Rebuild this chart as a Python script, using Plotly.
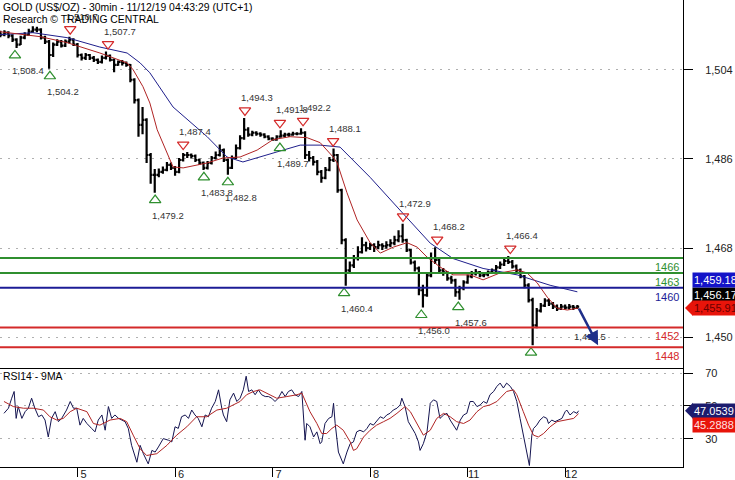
import plotly.graph_objects as go
from plotly.subplots import make_subplots

# hourly bars; x = hours counted from 4 Nov 00:00 on the trading clock
hours = list(range(5, 148))
closes = [
    1511.1, 1511.5, 1510.9, 1510.1, 1509.1, 1510.5, 1511.1, 1511.7, 1512.1, 1512.1,
    1510.5, 1509.7, 1507.0, 1509.1, 1509.7, 1508.9, 1509.7, 1510.1, 1509.1, 1507.0,
    1506.4, 1507.0, 1506.4, 1506.0, 1505.6, 1506.4, 1506.8, 1506.0, 1505.0, 1505.6,
    1505.4, 1505.0, 1502.0, 1497.9, 1492.9, 1493.9, 1486.8, 1482.8, 1482.8, 1483.4,
    1483.8, 1484.8, 1484.2, 1483.4, 1485.8, 1486.8, 1486.8, 1486.6, 1485.8, 1485.2,
    1484.2, 1485.2, 1486.2, 1486.8, 1487.8, 1485.8, 1484.2, 1486.2, 1488.2, 1490.2,
    1491.9, 1490.9, 1491.3, 1491.1, 1490.9, 1490.5, 1490.1, 1489.9, 1490.5, 1490.7,
    1490.9, 1490.9, 1491.1, 1491.1, 1491.3, 1486.8, 1486.2, 1485.4, 1483.4, 1482.2,
    1483.8, 1485.8, 1486.8, 1479.7, 1469.6, 1463.5, 1464.5, 1466.0, 1467.2, 1468.6,
    1468.0, 1468.6, 1468.2, 1468.6, 1468.4, 1468.6, 1469.0, 1469.6, 1470.4, 1469.6,
    1467.6, 1465.1, 1463.9, 1459.5, 1458.5, 1462.5, 1466.0, 1465.6, 1463.5, 1463.1,
    1461.9, 1461.5, 1459.1, 1459.9, 1461.1, 1462.3, 1462.9, 1463.1, 1462.5, 1462.7,
    1463.1, 1463.5, 1464.1, 1464.7, 1465.4, 1465.2, 1464.3, 1463.5, 1462.3, 1460.5,
    1457.5, 1452.4, 1455.4, 1456.4, 1457.4, 1456.8, 1456.2, 1455.8, 1456.2, 1456.0,
    1456.2, 1456.0, 1456.17,
]
highs = [
    1511.9, 1512.0, 1511.8, 1511.2, 1510.4, 1510.9, 1511.6, 1512.3, 1512.8, 1512.7,
    1512.4, 1510.9, 1510.0, 1509.5, 1510.2, 1510.0, 1510.1, 1510.7, 1510.4, 1509.4,
    1507.3, 1507.4, 1507.2, 1506.8, 1506.3, 1506.9, 1507.7, 1507.1, 1506.3, 1505.9,
    1506.0, 1505.7, 1505.2, 1502.3, 1498.2, 1496.5, 1494.2, 1487.2, 1484.0, 1484.1,
    1484.5, 1485.4, 1485.3, 1484.6, 1486.2, 1487.2, 1487.4, 1487.1, 1486.9, 1486.1,
    1485.5, 1485.6, 1486.6, 1487.5, 1488.9, 1488.1, 1486.1, 1486.7, 1488.9, 1490.8,
    1494.3, 1492.4, 1491.7, 1491.6, 1491.4, 1491.2, 1490.8, 1490.4, 1490.8, 1491.8,
    1491.3, 1491.3, 1491.5, 1491.4, 1492.2, 1491.6, 1487.6, 1486.6, 1485.8, 1483.8,
    1484.4, 1486.4, 1488.1, 1487.0, 1480.0, 1470.0, 1465.3, 1466.6, 1468.4, 1470.2,
    1469.3, 1469.1, 1469.0, 1469.5, 1469.0, 1469.4, 1469.8, 1470.5, 1471.6, 1472.9,
    1469.9, 1467.9, 1465.5, 1464.3, 1460.6, 1462.9, 1467.1, 1468.2, 1465.9, 1464.0,
    1463.4, 1462.4, 1461.8, 1460.4, 1461.5, 1462.7, 1463.4, 1463.8, 1463.4, 1463.1,
    1463.5, 1463.9, 1464.6, 1465.3, 1466.0, 1466.4, 1465.6, 1464.7, 1463.9, 1462.6,
    1460.9, 1458.0, 1455.9, 1456.9, 1457.9, 1457.8, 1457.1, 1456.6, 1456.7, 1456.6,
    1456.7, 1456.5, 1456.5,
]
lows = [
    1510.6, 1510.8, 1510.4, 1509.6, 1508.4, 1509.0, 1510.2, 1510.9, 1511.5, 1511.6,
    1510.1, 1509.2, 1504.2, 1506.6, 1508.8, 1508.5, 1508.6, 1509.3, 1508.8, 1506.5,
    1505.9, 1506.0, 1506.0, 1505.6, 1505.2, 1505.3, 1506.1, 1505.7, 1503.5, 1504.8,
    1504.9, 1504.6, 1501.5, 1497.2, 1490.5, 1491.0, 1485.2, 1481.0, 1479.2, 1482.3,
    1483.0, 1483.5, 1483.8, 1482.6, 1483.1, 1485.5, 1486.2, 1486.1, 1485.4, 1484.8,
    1483.8, 1483.9, 1484.9, 1485.9, 1486.5, 1485.4, 1482.8, 1484.0, 1486.0, 1487.9,
    1489.9, 1490.5, 1490.6, 1490.7, 1490.5, 1490.2, 1489.8, 1489.7, 1489.7, 1490.3,
    1490.4, 1490.5, 1490.7, 1490.8, 1490.9, 1486.0, 1485.5, 1484.7, 1482.7, 1481.2,
    1481.9, 1483.5, 1485.4, 1479.2, 1468.8, 1460.4, 1462.8, 1464.0, 1465.5, 1466.9,
    1467.3, 1467.6, 1467.2, 1467.8, 1467.6, 1467.9, 1468.2, 1468.6, 1469.2, 1469.1,
    1467.2, 1464.7, 1463.3, 1458.5, 1456.0, 1458.2, 1462.1, 1464.8, 1463.0, 1462.4,
    1461.4, 1460.8, 1458.2, 1457.6, 1459.5, 1460.8, 1461.9, 1462.5, 1462.1, 1462.1,
    1462.3, 1462.8, 1463.2, 1463.8, 1464.4, 1464.8, 1463.9, 1463.0, 1461.9, 1459.9,
    1457.0, 1448.4, 1451.8, 1455.0, 1456.1, 1456.3, 1455.7, 1455.3, 1455.5, 1455.6,
    1455.6, 1455.5, 1455.7,
]
first_open = 1511.4
opens = [first_open] + closes[:-1]

# moving averages
ma_fast_x = [4.9, 14.8, 21.4, 29.5, 36.2, 37.7, 40.1, 41.8, 43.6, 47.5, 50.0, 55.9, 59.8,
             64.0, 68.2, 72.1, 76.3, 80.5, 83.7, 86.9, 87.9, 90.3, 92.8, 96.0, 98.5, 101.7,
             105.1, 107.6, 110.0, 113.2, 116.4, 120.6, 123.8, 128.0, 132.2, 134.6, 137.1,
             139.6, 142.0, 144.5, 147.2]
ma_fast_y = [1511.7, 1510.7, 1509.5, 1507.4, 1505.4, 1504.0, 1500.6, 1497.3, 1491.9, 1484.4,
             1484.2, 1485.2, 1486.2, 1486.4, 1487.8, 1489.9, 1490.5, 1490.3, 1489.3, 1486.4,
             1485.2, 1479.2, 1473.7, 1469.1, 1467.0, 1468.2, 1469.1, 1468.2, 1466.2, 1464.2,
             1462.6, 1462.6, 1461.6, 1463.0, 1463.6, 1463.0, 1461.0, 1458.1, 1455.9, 1455.5,
             1455.91]
ma_slow_x = [4.9, 13.0, 21.4, 29.5, 36.2, 39.4, 41.8, 47.5, 55.9, 60.8, 64.7, 68.2, 73.8,
             78.8, 83.7, 88.6, 96.0, 104.1, 110.8, 116.4, 123.8, 132.2, 140.3, 147.0]
ma_slow_y = [1511.1, 1511.5, 1510.5, 1508.6, 1507.4, 1505.4, 1503.4, 1496.5, 1490.5, 1486.4,
             1485.4, 1486.2, 1487.6, 1488.8, 1488.8, 1488.4, 1482.3, 1475.0, 1469.0, 1465.9,
             1463.9, 1462.6, 1460.5, 1459.18]

# swing points
swing_high_x = [22.2, 31.5, 50.0, 65.2, 73.8, 79.5, 86.9, 104.1, 112.5, 130.5]
swing_high_y = [1510.7, 1507.7, 1487.4, 1494.3, 1491.8, 1492.2, 1488.1, 1472.9, 1468.2, 1466.4]
swing_low_x = [8.6, 17.2, 43.1, 55.1, 61.0, 73.8, 89.6, 108.6, 117.7, 135.6]
swing_low_y = [1508.4, 1504.2, 1479.2, 1483.8, 1482.8, 1489.7, 1460.4, 1456.0, 1457.6, 1448.4]
swing_low_labelled = [True] * 9 + [False]

# support / resistance levels
levels = [1466, 1463, 1460, 1452, 1448]
level_colors = ["#2f8f2f", "#2f8f2f", "#1c1c96", "#d42a2a", "#d42a2a"]

target_from = (147.2, 1456.1)
target_to = (152.1, 1448.4)
target_label = "1,450.5"

# RSI 14 and its 9 period average
rsi_x = [5.9, 7.0, 7.8, 8.4, 8.9, 9.4, 10.3, 11.1, 11.9, 12.7, 13.5, 14.4, 15.2, 16.0, 16.8,
         17.6, 18.5, 19.3, 20.1, 21.3, 22.2, 23.0, 23.8, 24.6, 25.4, 26.3, 27.5, 28.3, 29.1,
         30.0, 30.8, 31.6, 32.4, 33.2, 34.1, 34.9, 35.7, 36.5, 37.3, 38.6, 39.4, 40.2, 41.4,
         42.3, 43.1, 43.9, 45.1, 46.4, 47.2, 48.0, 48.8, 49.6, 50.5, 51.3, 52.1, 52.9, 53.7,
         54.6, 55.4, 56.2, 57.0, 57.9, 58.7, 59.5, 59.9, 60.7, 61.5, 62.4, 63.2, 64.0, 64.8,
         65.5, 66.1, 66.9, 67.7, 68.5, 69.3, 70.2, 71.0, 71.8, 72.6, 73.4, 74.3, 75.1, 75.9,
         76.7, 77.5, 78.4, 79.2, 80.0, 80.4, 81.2, 82.1, 82.9, 83.7, 84.1, 84.9, 85.8, 86.6,
         87.0, 87.4, 88.2, 89.4, 90.3, 91.1, 91.9, 92.7, 93.5, 94.4, 95.2, 96.0, 96.8, 97.6,
         98.5, 99.3, 100.1, 100.9, 101.7, 102.6, 103.4, 103.8, 104.6, 105.4, 106.3, 107.1,
         107.9, 108.3, 109.1, 110.0, 110.8, 111.6, 112.4, 113.2, 114.1, 114.9, 115.7, 116.5,
         117.3, 118.2, 119.0, 119.8, 120.6, 121.4, 122.3, 123.1, 123.9, 124.7, 125.5, 126.4,
         127.2, 128.0, 128.8, 129.6, 130.5, 131.3, 132.1, 132.9, 133.7, 134.6, 135.2, 135.8,
         136.2, 137.0, 137.8, 138.7, 139.5, 139.9, 140.7, 141.5, 142.4, 143.2, 144.0, 144.4,
         145.2, 146.1, 146.9, 147.3]
rsi_y = [45.5, 48.6, 54.7, 58.8, 42.4, 49.6, 42.4, 46.5, 48.6, 54.7, 48.6, 43.4, 44.5, 41.4,
         31.1, 42.4, 46.5, 40.4, 42.4, 47.5, 52.7, 48.6, 48.6, 38.3, 42.4, 39.3, 36.2, 34.2,
         41.4, 44.5, 35.2, 49.6, 42.4, 44.5, 42.4, 41.4, 40.4, 36.2, 26.0, 15.7, 26.0, 20.9,
         14.7, 22.9, 21.9, 25.0, 30.1, 29.1, 28.1, 37.3, 36.3, 43.4, 44.5, 42.4, 47.5, 44.5,
         42.4, 37.3, 44.5, 43.4, 48.6, 52.7, 59.8, 48.6, 44.5, 40.4, 53.7, 57.8, 52.7, 54.7,
         59.8, 68.1, 58.8, 59.8, 56.8, 59.8, 56.8, 55.7, 55.7, 54.7, 52.7, 54.7, 58.8, 55.7,
         58.8, 59.8, 56.8, 55.7, 58.8, 29.1, 39.3, 37.3, 31.1, 34.2, 27.0, 28.1, 39.3, 42.4,
         43.4, 51.6, 39.3, 21.9, 14.7, 21.9, 27.0, 28.1, 34.2, 35.2, 34.2, 36.2, 39.3, 38.3,
         40.4, 43.4, 42.4, 44.5, 45.5, 47.5, 48.6, 50.6, 54.7, 49.6, 40.4, 36.2, 33.2, 28.1,
         22.9, 27.0, 34.2, 51.6, 53.7, 52.7, 42.4, 44.5, 45.5, 41.4, 38.3, 35.2, 41.4, 44.5,
         45.5, 52.7, 52.7, 49.6, 50.6, 52.7, 51.6, 56.8, 58.8, 61.9, 63.9, 60.9, 63.9, 61.9,
         58.8, 52.7, 42.4, 32.2, 21.9, 13.7, 32.2, 36.2, 38.3, 41.4, 43.4, 42.4, 39.3, 41.4,
         40.4, 41.4, 42.4, 46.5, 47.5, 44.5, 46.5, 45.5, 47.0539]
rsi_ma_x = [5.9, 8.2, 10.7, 13.1, 15.6, 17.2, 18.9, 20.5, 22.2, 23.8, 26.3, 27.9, 29.5, 32.0,
            34.5, 36.1, 37.7, 39.4, 41.0, 43.5, 46.0, 48.4, 50.9, 53.3, 55.8, 58.3, 60.7,
            62.4, 64.0, 65.6, 67.3, 68.9, 70.6, 73.0, 75.5, 78.0, 79.2, 81.2, 82.9, 84.1,
            85.3, 86.6, 87.8, 89.4, 91.1, 91.9, 92.7, 94.4, 96.0, 97.6, 99.3, 100.9, 102.6,
            104.6, 105.9, 107.5, 109.1, 110.8, 112.4, 114.1, 115.7, 117.3, 119.0, 120.6,
            122.3, 123.9, 125.5, 127.2, 129.6, 131.3, 132.1, 133.7, 135.0, 136.2, 137.4,
            138.7, 140.3, 142.0, 144.4, 146.1, 147.3]
rsi_ma_y = [52.7, 49.6, 48.6, 48.6, 47.5, 43.4, 41.4, 42.4, 46.5, 48.6, 46.5, 39.3, 38.3, 41.4,
            42.4, 40.4, 32.2, 23.9, 19.8, 20.9, 26.0, 32.2, 37.3, 43.4, 43.4, 47.5, 48.6,
            50.6, 52.7, 56.8, 58.8, 59.8, 57.8, 54.7, 55.7, 56.8, 57.8, 46.5, 39.3, 33.2,
            33.2, 36.3, 38.3, 35.2, 28.1, 22.9, 23.9, 31.1, 35.2, 38.3, 40.4, 42.4, 45.5,
            49.6, 46.5, 39.3, 32.2, 35.2, 42.4, 45.5, 43.4, 40.4, 39.3, 41.4, 46.5, 49.6,
            50.6, 52.7, 58.8, 59.8, 56.8, 46.5, 38.3, 32.2, 31.1, 33.2, 37.3, 40.4, 41.4,
            42.4, 45.2888]

day_ticks = [24, 48, 72, 96, 120, 144]
day_labels = ["5", "6", "7", "8", "11", "12"]

FONT = "Liberation Sans"
RED = "#d42a2a"
GREEN = "#2f8f2f"

fig = make_subplots(rows=2, cols=1, shared_xaxes=True, vertical_spacing=0,
                    row_heights=[0.788, 0.212])

fig.add_trace(go.Ohlc(x=hours, open=opens, high=highs, low=lows, close=closes,
                      increasing_line_color="black", decreasing_line_color="black",
                      line_width=2.2, tickwidth=0.45, hoverinfo="skip"), row=1, col=1)
fig.add_trace(go.Scatter(x=ma_slow_x, y=ma_slow_y, mode="lines",
                         line=dict(color="#1f1f8c", width=1)), row=1, col=1)
fig.add_trace(go.Scatter(x=ma_fast_x, y=ma_fast_y, mode="lines",
                         line=dict(color="#b02424", width=1)), row=1, col=1)

for lvl, col in zip(levels, level_colors):
    fig.add_hline(y=lvl, line_color=col, line_width=2, row=1, col=1)
    fig.add_annotation(x=1, xref="x domain", y=lvl, yref="y", xanchor="right", yanchor="top",
                       text=str(lvl), showarrow=False, xshift=-2, yshift=-1,
                       font=dict(family=FONT, size=11, color=col))

# swing markers, drawn a little away from the bar extreme
fig.add_trace(go.Scatter(x=swing_high_x, y=[v + 1.5 for v in swing_high_y], mode="markers",
                         marker=dict(symbol="triangle-down-open", size=10, color=RED,
                                     line=dict(width=1.2))), row=1, col=1)
fig.add_trace(go.Scatter(x=swing_low_x, y=[v - 1.5 for v in swing_low_y], mode="markers",
                         marker=dict(symbol="triangle-up-open", size=10, color=GREEN,
                                     line=dict(width=1.2))), row=1, col=1)
for hx, hy in zip(swing_high_x, swing_high_y):
    fig.add_annotation(x=hx, y=hy + 1.5, xref="x", yref="y", text=f"{hy:,.1f}",
                       showarrow=False, xshift=12, yshift=13,
                       font=dict(family=FONT, size=9.5, color="#333"))
for lx, ly, show in zip(swing_low_x, swing_low_y, swing_low_labelled):
    if show:
        fig.add_annotation(x=lx, y=ly - 1.5, xref="x", yref="y", text=f"{ly:,.1f}",
                           showarrow=False, xshift=13, yshift=-15,
                           font=dict(family=FONT, size=9.5, color="#333"))

fig.add_annotation(x=150.2, y=1450.1, xref="x", yref="y", text=target_label, showarrow=False,
                   font=dict(family=FONT, size=9.5, color="#333"))
fig.add_annotation(x=target_to[0], y=target_to[1], ax=target_from[0], ay=target_from[1],
                   xref="x", yref="y", axref="x", ayref="y", text="", showarrow=True,
                   arrowhead=2, arrowsize=1.1, arrowwidth=2.5, arrowcolor="#1f2f8a")

# RSI panel
fig.add_trace(go.Scatter(x=rsi_x, y=rsi_y, mode="lines",
                         line=dict(color="#141450", width=1)), row=2, col=1)
fig.add_trace(go.Scatter(x=rsi_ma_x, y=rsi_ma_y, mode="lines",
                         line=dict(color="#b02424", width=1)), row=2, col=1)

# value tags on the right axis
tags = [
    ("y", closes[-1], "1,456.17", "black", "white", 12),
    ("y", ma_slow_y[-1], "1,459.18", "#1414c8", "white", 12),
    ("y", ma_fast_y[-1], "1,455.91", "#e8140a", "#6a0000", 0),
    ("y2", rsi_y[-1], "47.0539", "#1c1c6e", "white", 0),
    ("y2", rsi_ma_y[-1], "45.2888", "#e8140a", "#ffe0e0", -11),
]
for yref, val, txt, bg, fg, shift in tags:
    fig.add_annotation(x=1, xref="paper", y=val, yref=yref, xanchor="left", text=txt,
                       showarrow=False, xshift=9, yshift=shift, bgcolor=bg, borderpad=1,
                       font=dict(family=FONT, size=11, color=fg))
for yref, val, col in [("y", ma_fast_y[-1], "#e8140a"), ("y2", rsi_y[-1], "#1c1c6e")]:
    fig.add_shape(type="path", xref="paper", yref=yref, xsizemode="pixel", ysizemode="pixel",
                  xanchor=1, yanchor=val, path="M 2 0 L 10 8 L 10 -8 Z",
                  fillcolor=col, line_width=0)

fig.add_annotation(x=0, y=1, xref="paper", yref="paper", xanchor="left", yanchor="top",
                   text="GOLD (US$/OZ) - 30min - 11/12/19 04:43:29 (UTC+1)", showarrow=False,
                   xshift=1, font=dict(family=FONT, size=10.4, color="black"))
fig.add_annotation(x=0, y=1, xref="paper", yref="paper", xanchor="left", yanchor="top",
                   text="Research © TRADING CENTRAL", showarrow=False, xshift=1, yshift=-12,
                   font=dict(family=FONT, size=10.4, color="black"))
fig.add_annotation(x=0, y=1, xref="x2 domain", yref="y2 domain", xanchor="left", yanchor="top",
                   text="RSI14 - 9MA", showarrow=False, xshift=1, yshift=-1,
                   font=dict(family=FONT, size=10.4, color="black"))

fig.update_layout(
    width=735, height=480,
    margin=dict(l=0, r=52, t=0, b=13),
    paper_bgcolor="white", plot_bgcolor="white",
    showlegend=False,
    font=dict(family=FONT, size=11, color="#222"),
)
fig.update_xaxes(range=[4.92, 173.0], showgrid=False, zeroline=False, showline=True,
                 linecolor="black", linewidth=1, rangeslider_visible=False)
fig.update_xaxes(showticklabels=False, ticks="", row=1, col=1)
fig.update_xaxes(tickvals=day_ticks, ticktext=day_labels, ticks="outside", ticklen=9,
                 tickcolor="black", ticklabelshift=6, ticklabelstandoff=-12, row=2, col=1)
fig.update_yaxes(side="right", showline=True, linecolor="black", linewidth=1, ticks="outside",
                 ticklen=9, tickcolor="black", zeroline=False, ticklabelstandoff=10,
                 showgrid=True, gridcolor="#b0b0b0", griddash="2px,6px", gridwidth=1)
fig.update_yaxes(range=[1443.8, 1518.1], tickvals=[1450, 1468, 1486, 1504],
                 ticktext=["1,450", "1,468", "1,486", "1,504"], row=1, col=1)
fig.update_yaxes(range=[12.8, 73.1], tickvals=[30, 50, 70], row=2, col=1)

# the page's default body margin would push the fixed-size figure off the window
fig.write_html("out.html", config={"displayModeBar": False},
               post_script="document.body.style.margin='0';")
